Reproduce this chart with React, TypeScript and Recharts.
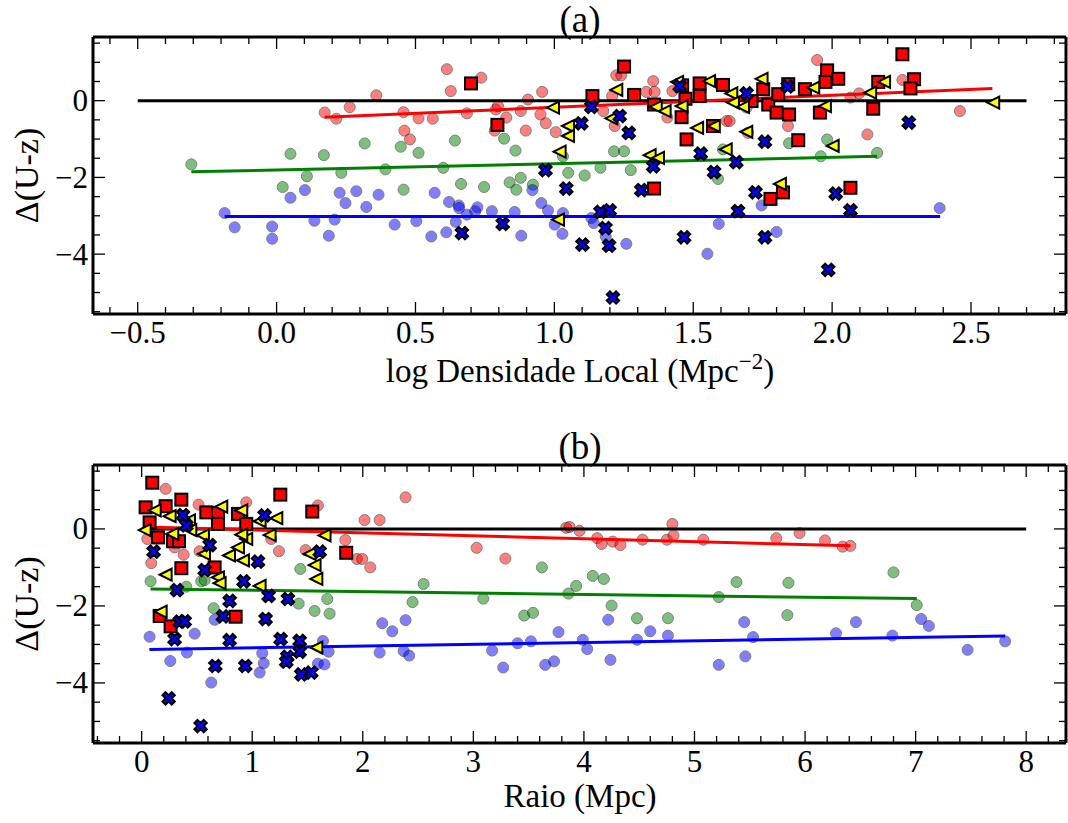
import React from 'react';
import { ScatterChart, Scatter, XAxis, YAxis } from 'recharts';

const FONT = "'Liberation Serif'";

type P = [number, number];

// ---------- Panel (a): log Densidade Local vs Δ(U-z) ----------
const aRedFaded: P[] = [
  [0.173, -0.31], [0.613, 0.82], [0.737, 0.6], [0.627, 0.25], [0.359, 0.14], [0.263, -0.17], [0.215, -0.47],
  [0.457, -0.3], [0.511, -0.46], [0.562, -0.47], [0.46, -0.78], [0.48, -1.01], [0.685, -0.33], [0.789, -0.23],
  [0.797, -0.14], [0.827, -0.44], [0.785, -0.78], [0.897, -0.78], [0.879, -0.27], [0.905, 0.03], [0.956, 0.23],
  [0.95, -0.36], [0.969, -0.59], [1.005, -0.82], [1.223, 0.66], [1.241, 0.66], [1.356, 0.51], [1.331, 0.23],
  [1.361, 0.23], [1.208, 0.12], [1.176, -0.27], [1.217, -0.66], [1.407, -0.44], [1.425, 0.25], [1.62, -0.53],
  [1.631, -0.53], [1.697, -0.84], [1.841, -0.66], [1.692, -0.18], [1.946, 1.06], [2.253, 0.54], [2.097, 0.19],
  [2.066, 0.08], [2.127, -0.88], [2.46, -0.27],
];
const aGreenFaded: P[] = [
  [-0.307, -1.66], [0.05, -1.385], [0.17, -1.42], [0.109, -1.97], [0.022, -2.25], [0.317, -1.115], [0.447, -1.2],
  [0.511, -1.36], [0.642, -1.04], [0.819, -0.99], [0.86, -1.3], [0.233, -1.88], [0.392, -1.79], [0.6, -1.75],
  [0.457, -2.32], [0.664, -2.17], [0.747, -2.25], [0.839, -2.13], [0.879, -2.01], [0.863, -2.32], [0.923, -2.19],
  [1.031, -1.45], [1.05, -1.88], [1.109, -1.95], [1.166, -1.75], [1.215, -1.32], [1.251, -1.32], [1.275, -1.81],
  [1.589, -2.04], [1.607, -1.27], [1.845, -1.11], [1.982, -1.01], [1.959, -1.45], [2.162, -1.36],
];
const aBlueFaded: P[] = [
  [-0.187, -2.93], [-0.151, -3.3], [-0.016, -3.28], [-0.016, -3.6], [0.05, -2.53], [0.102, -2.33], [0.136, -3.13],
  [0.188, -3.52], [0.227, -2.4], [0.287, -2.36], [0.248, -2.67], [0.323, -2.77], [0.367, -2.45], [0.209, -3.1],
  [0.425, -3.23], [0.503, -3.14], [0.569, -2.4], [0.621, -2.64], [0.656, -2.73], [0.657, -2.8], [0.685, -2.97],
  [0.715, -2.88], [0.723, -2.78], [0.645, -3.16], [0.611, -3.43], [0.557, -3.54], [0.775, -2.88], [0.857, -2.9],
  [0.881, -3.52], [0.921, -2.33], [0.953, -2.67], [0.977, -2.86], [1.001, -3.23], [1.029, -3.47], [1.031, -2.93],
  [1.133, -3.06], [1.142, -3.19], [1.185, -3.54], [1.259, -3.73], [1.592, -3.21], [1.551, -3.99], [1.746, -2.73],
  [1.8, -3.42], [2.387, -2.8],
];
const aSquares: P[] = [
  [0.7, 0.45], [0.795, -0.63], [1.251, 0.89], [1.137, 0.12], [1.287, 0.15], [1.359, -0.1], [1.46, 0.4],
  [1.472, 0.05], [1.458, -0.43], [1.476, -1.01], [1.523, 0.45], [1.523, 0.12], [1.607, 0.41], [1.571, -0.66],
  [1.71, -0.01], [1.752, 0.3], [1.77, -0.1], [1.806, 0.17], [1.8, -0.31], [1.845, -0.36], [1.842, 0.43],
  [1.878, -1.03], [1.902, 0.3], [1.359, -2.29], [1.778, -2.56], [1.823, -2.39], [2.253, 1.21], [1.982, 0.79],
  [1.976, 0.49], [2.022, 0.57], [2.166, 0.49], [2.295, 0.56], [2.282, 0.32], [2.148, -0.21], [1.956, -0.31],
  [2.066, -2.27],
];
const aTriangles: P[] = [
  [0.995, -0.18], [1.019, -1.33], [1.013, -3.1], [1.049, -0.66], [1.049, -0.92], [1.223, 0.28], [1.205, -0.46],
  [1.365, -0.16], [1.397, -0.27], [1.442, 0.49], [1.458, -0.14], [1.343, -1.42], [1.373, -1.49], [1.557, 0.51],
  [1.637, 0.19], [1.643, -0.05], [1.679, -0.16], [1.514, -0.71], [1.574, -0.66], [1.691, -0.81], [1.617, -1.27],
  [1.746, 0.57], [1.812, -2.17], [1.932, 0.34], [2.187, 0.49], [2.137, 0.21], [1.974, -0.14], [2.002, -1.18],
  [2.58, -0.05],
];
const aCrosses: P[] = [
  [0.667, -3.45], [0.814, -3.21], [0.968, -1.81], [1.133, -0.16], [1.097, -0.59], [1.235, -0.4], [1.268, -0.84],
  [1.451, 0.38], [1.692, 0.19], [1.84, 0.37], [1.758, -1.07], [1.527, -1.38], [1.655, -1.6], [1.575, -1.86],
  [1.356, -1.71], [1.043, -2.29], [1.313, -2.33], [1.724, -2.39], [1.166, -2.9], [1.199, -2.86], [1.661, -2.88],
  [1.184, -3.32], [1.101, -3.75], [1.197, -3.78], [1.467, -3.56], [1.758, -3.56], [1.211, -5.13], [2.276, -0.57],
  [2.013, -2.42], [2.066, -2.86], [1.986, -4.41],
];
const aLineBlack: P[] = [[-0.5, 0], [2.7, 0]];
const aLineRed: P[] = [[0.173, -0.43], [2.577, 0.32]];
const aLineGreen: P[] = [[-0.307, -1.855], [2.162, -1.45]];
const aLineBlue: P[] = [[-0.187, -3.02], [2.389, -3.02]];

// ---------- Panel (b): Raio (Mpc) vs Δ(U-z) ----------
const bRedFaded: P[] = [
  [0.217, 1.04], [0.515, 0.63], [0.946, 0.69], [0.051, -0.26], [0.298, -0.48], [0.38, -0.67], [0.087, -0.89],
  [0.524, -0.58], [1.594, 0.61], [1.242, -0.58], [1.483, -0.55], [1.842, -0.29], [1.947, -0.78], [1.995, -0.78],
  [2.068, -1.0], [2.016, 0.23], [2.152, 0.23], [2.387, 0.82], [1.172, -0.26], [3.03, -0.49], [3.29, -0.77],
  [3.84, 0.03], [3.87, 0.05], [3.96, -0.05], [4.12, -0.24], [4.16, -0.39], [4.26, -0.33], [4.33, -0.42],
  [4.53, -0.28], [4.75, -0.28], [4.8, 0.13], [4.81, -0.17], [5.08, -0.28], [5.74, -0.24], [5.95, -0.11],
  [6.18, -0.3], [6.34, -0.46], [6.41, -0.44],
];
const bGreenFaded: P[] = [
  [0.081, -1.36], [0.404, -1.5], [0.539, -1.36], [0.57, -1.33], [0.651, -2.06], [1.435, -1.04], [1.679, -1.82],
  [1.42, -1.94], [1.564, -2.13], [1.7, -2.2], [2.45, -1.9], [2.55, -1.43], [3.09, -1.81], [3.46, -2.25],
  [3.54, -2.18], [3.62, -1.0], [3.86, -1.68], [3.93, -1.48], [4.08, -1.22], [4.18, -1.3], [4.25, -1.99],
  [4.48, -2.32], [4.76, -2.32], [5.22, -1.77], [5.38, -1.38], [5.85, -1.4], [5.84, -2.24], [6.8, -1.13],
  [7.01, -1.98],
];
const bBlueFaded: P[] = [
  [0.072, -2.8], [0.479, -2.72], [0.259, -3.43], [0.41, -3.21], [0.63, -3.99], [0.66, -2.36], [1.64, -2.91],
  [1.691, -3.19], [1.091, -3.23], [1.104, -3.49], [1.067, -3.73], [1.594, -3.5], [1.654, -3.52], [2.176, -2.45],
  [2.267, -2.66], [2.387, -2.37], [2.152, -3.21], [2.369, -3.17], [2.42, -3.29], [3.17, -3.16], [3.27, -3.6],
  [3.4, -2.97], [3.52, -2.92], [3.77, -2.68], [3.65, -3.53], [3.73, -3.44], [3.99, -2.88], [4.03, -3.12],
  [4.22, -2.36], [4.24, -3.4], [4.48, -2.88], [4.6, -2.66], [4.76, -2.77], [5.22, -3.53], [5.45, -2.42],
  [5.46, -3.31], [5.53, -2.81], [6.28, -2.71], [6.46, -2.42], [6.79, -2.77], [7.05, -2.34], [7.12, -2.52],
  [7.47, -3.14], [7.81, -2.92],
];
const bSquares: P[] = [
  [0.096, 1.2], [0.036, 0.56], [0.217, 0.59], [0.359, 0.76], [0.585, 0.43], [0.69, 0.41], [0.871, 0.39],
  [0.072, 0.17], [0.148, -0.22], [0.283, -0.32], [0.338, -0.32], [0.69, 0.13], [0.359, -1.02], [0.66, -1.0],
  [0.163, -2.26], [0.262, -2.53], [0.85, -2.28], [0.946, 0.13], [1.254, 0.89], [1.543, 0.45], [1.85, -0.62],
];
const bTriangles: P[] = [
  [0.118, 0.48], [0.253, 0.33], [0.027, -0.03], [0.277, -0.13], [0.428, 0.22], [0.44, -0.03], [0.554, -0.17],
  [0.72, 0.58], [0.901, 0.48], [0.946, -0.26], [0.901, -0.15], [0.871, -0.48], [0.79, -0.69], [0.916, -0.82],
  [0.564, -0.65], [0.217, -1.19], [0.69, -1.26], [0.705, -1.41], [0.172, -2.15], [1.218, 0.28], [1.067, 0.2],
  [1.157, -0.16], [1.654, -0.17], [1.519, -0.65], [1.564, -0.94], [1.58, -1.3], [1.067, -1.48], [1.58, -3.08],
];
const bCrosses: P[] = [
  [0.374, 0.36], [0.404, 0.09], [0.108, -0.59], [0.615, -0.42], [0.57, -1.07], [0.922, -1.36], [0.319, -1.59],
  [0.796, -1.87], [0.344, -2.41], [0.389, -2.4], [0.735, -2.27], [0.298, -2.86], [0.796, -2.89], [0.666, -3.56],
  [0.937, -3.56], [0.244, -4.4], [0.533, -5.12], [1.112, 0.35], [1.61, -0.59], [1.052, -0.85], [1.148, -1.74],
  [1.323, -1.82], [1.121, -2.34], [1.257, -2.86], [1.429, -2.91], [1.429, -3.19], [1.317, -3.32], [1.308, -3.45],
  [1.444, -3.78], [1.534, -3.73],
];
const bLineBlack: P[] = [[0, 0], [8, 0]];
const bLineRed: P[] = [[0.03, 0.05], [6.41, -0.44]];
const bLineGreen: P[] = [[0.08, -1.56], [7.01, -1.81]];
const bLineBlue: P[] = [[0.07, -3.13], [7.81, -2.78]];

// ---------- ticks ----------
const aXTicks = [-0.6, -0.5, -0.4, -0.3, -0.2, -0.1, 0, 0.1, 0.2, 0.3, 0.4, 0.5, 0.6, 0.7, 0.8, 0.9, 1.0, 1.1, 1.2,
  1.3, 1.4, 1.5, 1.6, 1.7, 1.8, 1.9, 2.0, 2.1, 2.2, 2.3, 2.4, 2.5, 2.6, 2.7, 2.8];
const aXMajor = [-0.5, 0, 0.5, 1, 1.5, 2, 2.5];
const bXTicks = [-0.4, -0.2, 0, 0.2, 0.4, 0.6, 0.8, 1, 1.2, 1.4, 1.6, 1.8, 2, 2.2, 2.4, 2.6, 2.8, 3, 3.2, 3.4, 3.6,
  3.8, 4, 4.2, 4.4, 4.6, 4.8, 5, 5.2, 5.4, 5.6, 5.8, 6, 6.2, 6.4, 6.6, 6.8, 7, 7.2, 7.4, 7.6, 7.8, 8, 8.2];
const bXMajor = [0, 1, 2, 3, 4, 5, 6, 7, 8];
const yTicks = [-5.5, -5, -4.5, -4, -3.5, -3, -2.5, -2, -1.5, -1, -0.5, 0, 0.5, 1, 1.5];
const yMajor = [-4, -2, 0];

const aXDomain: [number, number] = [-0.661, 2.842];
const bXDomain: [number, number] = [-0.44, 8.36];
const yDomain: [number, number] = [-5.56, 1.66];

const toPts = (arr: P[]) => arr.map(([x, y]) => ({ x, y }));
const minus = (s: string) => s.replace('-', '\u2212');
const fmtA = (v: number) => minus(v.toFixed(1));
const fmtInt = (v: number) => minus(String(Math.round(v)));

const txtStyle = (size: number): React.CSSProperties => ({ fontFamily: FONT, fontSize: size });

type Side = 'bottom' | 'top' | 'left' | 'right';
function makeTick(side: Side, major: number[], fmt?: (v: number) => string) {
  return (props: any) => {
    const { x, y, payload } = props;
    const v = Number(payload.value);
    const isMajor = major.some((m) => Math.abs(m - v) < 1e-6);
    const len = isMajor ? 12 : 7;
    const sw = 1.3;
    let ln: React.ReactNode = null;
    if (side === 'bottom') ln = <line x1={x} x2={x} y1={y} y2={y - len} stroke="#000" strokeWidth={sw} />;
    if (side === 'top') ln = <line x1={x} x2={x} y1={y} y2={y + len} stroke="#000" strokeWidth={sw} />;
    if (side === 'left') ln = <line x1={x} x2={x + len} y1={y} y2={y} stroke="#000" strokeWidth={sw} />;
    if (side === 'right') ln = <line x1={x} x2={x - len} y1={y} y2={y} stroke="#000" strokeWidth={sw} />;
    let label: React.ReactNode = null;
    if (fmt && isMajor && side === 'bottom') {
      label = (
        <text x={x} y={y + 29} textAnchor="middle" fill="#000" style={txtStyle(31)}>
          {fmt(v)}
        </text>
      );
    }
    if (fmt && isMajor && side === 'left') {
      label = (
        <text x={x - 5} y={y + 10.5} textAnchor="end" fill="#000" style={txtStyle(31)}>
          {fmt(v)}
        </text>
      );
    }
    return (
      <g>
        {ln}
        {label}
      </g>
    );
  };
}

const fadedShape = (color: string) => (p: any) => (
  <g opacity={0.5}>
    <circle cx={p.cx} cy={p.cy} r={5.5} fill={color} stroke="#000" strokeWidth={1} />
  </g>
);
const squareShape = (p: any) => (
  <rect x={p.cx - 6} y={p.cy - 6} width={12} height={12} fill="#ff0000" stroke="#000" strokeWidth={2} />
);
const triangleShape = (p: any) => (
  <polygon
    points={`${p.cx - 6},${p.cy} ${p.cx + 6},${p.cy - 6} ${p.cx + 6},${p.cy + 6}`}
    fill="#ffff00"
    stroke="#000"
    strokeWidth={2}
    strokeLinejoin="miter"
  />
);
const X_PTS = [[-1, -2], [0, -1], [1, -2], [2, -1], [1, 0], [2, 1], [1, 2], [0, 1], [-1, 2], [-2, 1], [-1, 0], [-2, -1]];
const crossShape = (p: any) => {
  const k = 3.1;
  const pts = X_PTS.map(([a, b]) => `${p.cx + a * k},${p.cy + b * k}`).join(' ');
  return <polygon points={pts} fill="#0000ff" stroke="#000" strokeWidth={2} strokeLinejoin="miter" />;
};
const noShape = () => <g />;

const axisLine = { stroke: '#000', strokeWidth: 3 };

type PanelProps = {
  xDomain: [number, number];
  xTicks: number[];
  xMajor: number[];
  xFmt: (v: number) => string;
  height: number;
  xAxisHeight: number;
  red: P[];
  green: P[];
  blue: P[];
  squares: P[];
  triangles: P[];
  crosses: P[];
  lBlack: P[];
  lRed: P[];
  lGreen: P[];
  lBlue: P[];
};

function Panel(props: PanelProps) {
  const { xDomain, xTicks, xMajor, xFmt, height, xAxisHeight } = props;
  return (
    <ScatterChart width={1068} height={height} margin={{ top: 36, right: 1, bottom: 0, left: 0 }}>
      <XAxis
        xAxisId={0}
        dataKey="x"
        type="number"
        domain={xDomain}
        allowDataOverflow
        ticks={xTicks}
        interval={0}
        height={xAxisHeight}
        tickSize={0}
        tickMargin={0}
        tickLine={false}
        axisLine={axisLine}
        tick={makeTick('bottom', xMajor, xFmt)}
      />
      <XAxis
        xAxisId="t"
        orientation="top"
        dataKey="x"
        type="number"
        domain={xDomain}
        allowDataOverflow
        ticks={xTicks}
        interval={0}
        height={1}
        tickSize={0}
        tickMargin={0}
        tickLine={false}
        axisLine={axisLine}
        tick={makeTick('top', xMajor)}
      />
      <YAxis
        yAxisId={0}
        dataKey="y"
        type="number"
        domain={yDomain}
        allowDataOverflow
        ticks={yTicks}
        interval={0}
        width={93}
        tickSize={0}
        tickMargin={0}
        tickLine={false}
        axisLine={axisLine}
        tick={makeTick('left', yMajor, fmtInt)}
      />
      <YAxis
        yAxisId="r"
        orientation="right"
        dataKey="y"
        type="number"
        domain={yDomain}
        allowDataOverflow
        ticks={yTicks}
        interval={0}
        width={1}
        tickSize={0}
        tickMargin={0}
        tickLine={false}
        axisLine={axisLine}
        tick={makeTick('right', yMajor)}
      />
      <Scatter data={toPts(props.red)} shape={fadedShape('#ff0000')} isAnimationActive={false} />
      <Scatter data={toPts(props.green)} shape={fadedShape('#008000')} isAnimationActive={false} />
      <Scatter data={toPts(props.blue)} shape={fadedShape('#0000ff')} isAnimationActive={false} />
      <Scatter
        xAxisId="t"
        yAxisId="r"
        data={toPts(props.lBlack)}
        fill="#000"
        line={{ stroke: '#000', strokeWidth: 3 }}
        shape={noShape}
        isAnimationActive={false}
      />
      <Scatter data={toPts(props.lRed)} fill="#ff0000" line={{ stroke: '#ff0000', strokeWidth: 3 }} shape={noShape} isAnimationActive={false} />
      <Scatter data={toPts(props.lGreen)} fill="#008000" line={{ stroke: '#008000', strokeWidth: 3 }} shape={noShape} isAnimationActive={false} />
      <Scatter data={toPts(props.lBlue)} fill="#0000ff" line={{ stroke: '#0000ff', strokeWidth: 3 }} shape={noShape} isAnimationActive={false} />
      <Scatter data={toPts(props.squares)} shape={squareShape} isAnimationActive={false} />
      <Scatter data={toPts(props.triangles)} shape={triangleShape} isAnimationActive={false} />
      <Scatter data={toPts(props.crosses)} shape={crossShape} isAnimationActive={false} />
    </ScatterChart>
  );
}

export default function App() {
  return (
    <div style={{ position: 'absolute', left: 0, top: 0, width: 1068, height: 823, background: '#fff', overflow: 'hidden' }}>
      <div style={{ position: 'absolute', left: 0, top: 0 }}>
        <Panel
          xDomain={aXDomain}
          xTicks={aXTicks}
          xMajor={aXMajor}
          xFmt={fmtA}
          height={420}
          xAxisHeight={106}
          red={aRedFaded}
          green={aGreenFaded}
          blue={aBlueFaded}
          squares={aSquares}
          triangles={aTriangles}
          crosses={aCrosses}
          lBlack={aLineBlack}
          lRed={aLineRed}
          lGreen={aLineGreen}
          lBlue={aLineBlue}
        />
      </div>
      <div style={{ position: 'absolute', left: 0, top: 428 }}>
        <Panel
          xDomain={bXDomain}
          xTicks={bXTicks}
          xMajor={bXMajor}
          xFmt={fmtInt}
          height={395}
          xAxisHeight={80}
          red={bRedFaded}
          green={bGreenFaded}
          blue={bBlueFaded}
          squares={bSquares}
          triangles={bTriangles}
          crosses={bCrosses}
          lBlack={bLineBlack}
          lRed={bLineRed}
          lGreen={bLineGreen}
          lBlue={bLineBlue}
        />
      </div>
      <svg width={1068} height={823} style={{ position: 'absolute', left: 0, top: 0, pointerEvents: 'none' }}>
        <g fill="#000">
          <text x={580} y={32} textAnchor="middle" style={txtStyle(37)}>(a)</text>
          <text x={580} y={459} textAnchor="middle" style={txtStyle(37)}>(b)</text>
          <text transform="translate(38,175.5) rotate(-90)" textAnchor="middle" style={txtStyle(34)}>Δ(U-z)</text>
          <text transform="translate(38,604) rotate(-90)" textAnchor="middle" style={txtStyle(34)}>Δ(U-z)</text>
          <text x={580} y={382} textAnchor="middle" style={txtStyle(33)}>
            log Densidade Local (Mpc
            <tspan dy={-13} style={{ fontSize: 23 }}>{'\u22122'}</tspan>
            <tspan dy={13}>)</tspan>
          </text>
          <text x={580} y={807} textAnchor="middle" style={txtStyle(33)}>Raio (Mpc)</text>
        </g>
      </svg>
    </div>
  );
}
